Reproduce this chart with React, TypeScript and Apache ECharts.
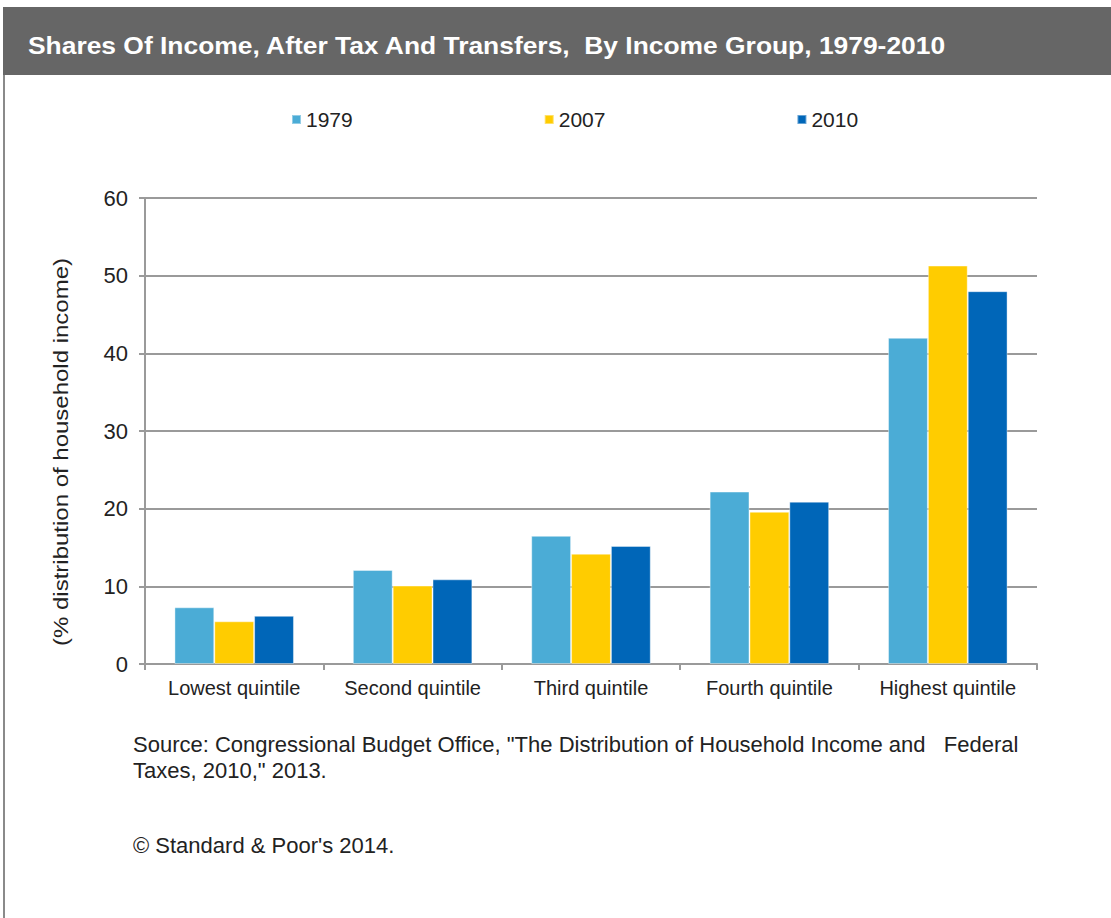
import React, { useEffect, useRef } from "react";
import * as echarts from "echarts";

const categories = ["Lowest quintile", "Second quintile", "Third quintile", "Fourth quintile", "Highest quintile"];
const seriesNames = ["1979", "2007", "2010"];
const values1979 = [7.3, 12.1, 16.5, 22.2, 42.0];
const values2007 = [5.5, 10.1, 14.2, 19.6, 51.3];
const values2010 = [6.2, 10.9, 15.2, 20.9, 48.0];
const colors = ["#4BACD6", "#FFCC00", "#0066B8"];
const titleText = "Shares Of Income, After Tax And Transfers,  By Income Group, 1979-2010";
const yAxisName = "(% distribution of household income)";
const sourceLine1 = "Source: Congressional Budget Office, \"The Distribution of Household Income and   Federal";
const sourceLine2 = "Taxes, 2010,\" 2013.";
const copyright = "© Standard & Poor's 2014.";

export default function App() {
  const ref = useRef<HTMLDivElement>(null);
  useEffect(() => {
    if (!ref.current) return;
    const chart = echarts.init(ref.current, null, { renderer: "svg" });
    const font = "'Liberation Sans', Arial, sans-serif";
    const allValues = [values1979, values2007, values2010];
    chart.setOption({
      animation: false,
      backgroundColor: "#ffffff",
      textStyle: { fontFamily: font },
      legend: {
        top: 104,
        left: 286,
        itemWidth: 9,
        itemHeight: 9,
        itemGap: 191,
        icon: "rect",
        textStyle: { fontSize: 21, color: "#222", fontFamily: font },
        data: seriesNames,
      },
      grid: { left: 145, right: 74, top: 198, bottom: 254, containLabel: false },
      xAxis: {
        type: "category",
        data: categories,
        axisLine: { lineStyle: { color: "#9a9a9a", width: 2 } },
        axisTick: { show: true, length: 6, lineStyle: { color: "#9a9a9a", width: 2 } },
        axisLabel: { fontSize: 20, color: "#222", margin: 14, interval: 0, fontFamily: font },
      },
      yAxis: {
        type: "value",
        min: 0,
        max: 60,
        interval: 10,
        axisLine: { show: true, lineStyle: { color: "#9a9a9a", width: 2 } },
        axisTick: { show: true, length: 6, lineStyle: { color: "#9a9a9a", width: 2 } },
        axisLabel: { fontSize: 22, color: "#222", margin: 17, fontFamily: font },
        splitLine: { show: true, lineStyle: { color: "#9a9a9a", width: 2 } },
      },
      series: seriesNames.map((name, i) => ({
        name,
        type: "bar",
        data: allValues[i],
        barGap: "0%",
        barCategoryGap: "33%",
        itemStyle: { color: colors[i], borderColor: "rgba(255,255,255,0.4)", borderWidth: 1 },
      })),
      graphic: [
        { type: "rect", shape: { x: 3, y: 7, width: 1108, height: 68 }, style: { fill: "#666666" }, z: 0 },
        { type: "line", shape: { x1: 4, y1: 75, x2: 4, y2: 918 }, style: { stroke: "#8a8a8a", lineWidth: 2 } },
        {
          type: "text",
          x: 28,
          y: 45,
          scaleX: 1.1,
          style: {
            text: titleText,
            fill: "#ffffff",
            fontSize: 24,
            fontWeight: "bold",
            fontFamily: font,
            textVerticalAlign: "middle",
          },
        },
        {
          type: "text",
          x: 61,
          y: 452,
          rotation: Math.PI / 2,
          scaleX: 1.2,
          style: {
            text: yAxisName,
            fill: "#222",
            fontSize: 20,
            fontFamily: font,
            textAlign: "center",
            textVerticalAlign: "middle",
          },
        },
        {
          type: "text",
          x: 133,
          y: 744,
          style: { text: sourceLine1, fill: "#222", fontSize: 22, fontFamily: font, textVerticalAlign: "middle" },
        },
        {
          type: "text",
          x: 133,
          y: 770,
          style: { text: sourceLine2, fill: "#222", fontSize: 22, fontFamily: font, textVerticalAlign: "middle" },
        },
        {
          type: "text",
          x: 133,
          y: 845,
          style: { text: copyright, fill: "#222", fontSize: 22, fontFamily: font, textVerticalAlign: "middle" },
        },
      ],
    });
    return () => chart.dispose();
  }, []);
  return <div ref={ref} style={{ position: "fixed", left: 0, top: 0, width: 1111, height: 918 }} />;
}
